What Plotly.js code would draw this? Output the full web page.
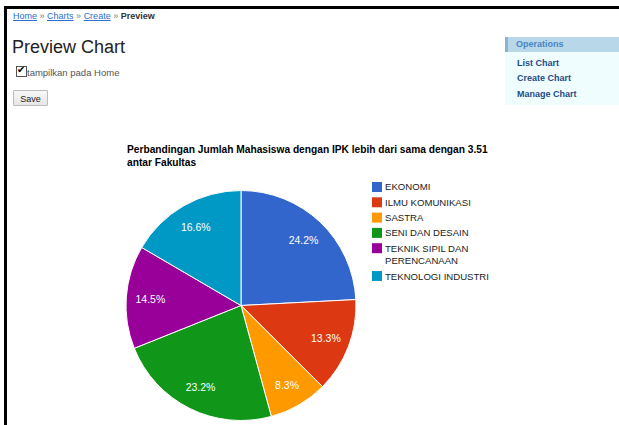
<!DOCTYPE html>
<html>
<head>
<meta charset="utf-8">
<script src="https://cdn.plot.ly/plotly-3.0.1.min.js"></script>
<style>
  html, body { margin:0; padding:0; width:619px; height:425px; overflow:hidden; background:#fff; font-family:"Liberation Sans", Arial, sans-serif; }
  #chart { position:absolute; left:0; top:0; width:619px; height:425px; }
  .abs { position:absolute; white-space:nowrap; }
  #frame { left:4px; top:6px; width:615px; height:419px; border-top:3px solid #000; border-left:3px solid #000; box-sizing:border-box; }
  #crumb { left:13px; top:11px; font-size:9px; color:#444; }
  #crumb a { color:#2b6fd0; text-decoration:underline; }
  #crumb b { color:#333; }
  #crumb span.sep { color:#777; }
  #h1 { left:12px; top:37px; font-size:18px; color:#222; }
  #chk { left:16px; top:66px; font-size:9.5px; color:#555; }
  #chk .box { display:inline-block; width:9px; height:9px; border:1px solid #555; vertical-align:-1px; position:relative; background:#fff; }
  #chk .box:after { content:"\2714"; position:absolute; left:0px; top:-3px; font-size:10px; color:#000; }
  #save { left:13px; top:90px; width:35px; height:16px; border:1px solid #bbb; background:linear-gradient(#f8f8f8,#e6e6e6); font-size:9px; color:#222; text-align:center; line-height:16px; box-sizing:border-box; border-radius:1px; }
  #ophead { left:505px; top:37px; width:114px; height:15px; background:#b8d8ea; border-left:3px solid #88b5d3; box-sizing:border-box; font-size:9px; font-weight:bold; color:#4784c4; padding-left:8px; line-height:15px; }
  #oppanel { left:505px; top:52px; width:114px; height:53px; background:#effdfe; }
  .op { left:517px; font-size:9px; font-weight:bold; color:#1d4c86; }
</style>
</head>
<body>
<div id="chart"></div>
<div id="frame" class="abs"></div>
<div id="crumb" class="abs"><a>Home</a> <span class="sep">»</span> <a>Charts</a> <span class="sep">»</span> <a>Create</a> <span class="sep">»</span> <b>Preview</b></div>
<div id="h1" class="abs">Preview Chart</div>
<div id="chk" class="abs"><span class="box"></span>tampilkan pada Home</div>
<div id="save" class="abs">Save</div>
<div id="ophead" class="abs">Operations</div>
<div id="oppanel" class="abs"></div>
<div class="abs op" style="top:58px">List Chart</div>
<div class="abs op" style="top:73px">Create Chart</div>
<div class="abs op" style="top:89px">Manage Chart</div>
<script>
// Data
var faculties = ["EKONOMI", "ILMU KOMUNIKASI", "SASTRA", "SENI DAN DESAIN", "TEKNIK SIPIL DAN<br>PERENCANAAN", "TEKNOLOGI INDUSTRI"];
var shares = [24.2, 13.3, 8.3, 23.2, 14.5, 16.6];
var sliceColors = ["#3366cc", "#dc3912", "#ff9900", "#109618", "#990099", "#0099c6"];
var chartTitle = "<b>Perbandingan Jumlah Mahasiswa dengan IPK lebih dari sama dengan 3.51<br>antar Fakultas</b>";

var W = 619, H = 425;
var cx = 241, cy = 305.5, r = 115;
var FONT = "Liberation Sans, Arial, sans-serif";
var domain = {
  x: [(cx - r) / W, (cx + r) / W],
  y: [(H - cy - r) / H, (H - cy + r) / H]
};

// Solid pie (slices)
var pieTrace = {
  type: "pie",
  labels: faculties,
  values: shares,
  sort: false,
  direction: "clockwise",
  rotation: 0,
  marker: { colors: sliceColors, line: { color: "#ffffff", width: 1 } },
  textinfo: "none",
  showlegend: false,
  domain: domain
};

// Transparent ring overlay carrying the percentage labels (places them toward the rim)
var labelTrace = {
  type: "pie",
  labels: faculties,
  values: shares,
  sort: false,
  direction: "clockwise",
  rotation: 0,
  hole: 0.58,
  marker: { colors: sliceColors.map(function () { return "rgba(0,0,0,0)"; }), line: { width: 0 } },
  texttemplate: "%{percent:.1%}",
  textposition: "inside",
  insidetextorientation: "horizontal",
  textfont: { family: FONT, size: 10.5, color: "#ffffff" },
  showlegend: false,
  domain: domain
};

// Legend built from the category and colour arrays
var annotations = [], shapes = [];
var legX = 372, legTextX = 384, legY = 187, itemStep = 15.3, lineStep = 12.5, sq = 10;
faculties.forEach(function (name, i) {
  var lines = name.split("<br>").length;
  shapes.push({
    type: "rect", xref: "paper", yref: "paper",
    x0: legX / W, x1: (legX + sq) / W,
    y0: 1 - (legY + sq / 2) / H, y1: 1 - (legY - sq / 2) / H,
    fillcolor: sliceColors[i], line: { width: 0 }
  });
  annotations.push({
    text: name, showarrow: false, xref: "paper", yref: "paper",
    x: legTextX / W, xanchor: "left",
    y: 1 - (legY + (lines - 1) * lineStep / 2) / H, yanchor: "middle",
    align: "left", borderpad: 0,
    font: { family: FONT, size: 9.6, color: "#222222" }
  });
  legY += itemStep + (lines - 1) * lineStep;
});

var layout = {
  width: W, height: H,
  margin: { l: 0, r: 0, t: 0, b: 0 },
  paper_bgcolor: "rgba(0,0,0,0)",
  plot_bgcolor: "rgba(0,0,0,0)",
  title: {
    text: chartTitle,
    x: 127 / W, xref: "paper", xanchor: "left",
    y: 1 - 153 / H, yref: "container", yanchor: "top",
    font: { family: FONT, size: 10.2, color: "#000000" }
  },
  showlegend: false,
  shapes: shapes,
  annotations: annotations
};

Plotly.newPlot("chart", [pieTrace, labelTrace], layout, { displayModeBar: false, staticPlot: true });
</script>
</body>
</html>
